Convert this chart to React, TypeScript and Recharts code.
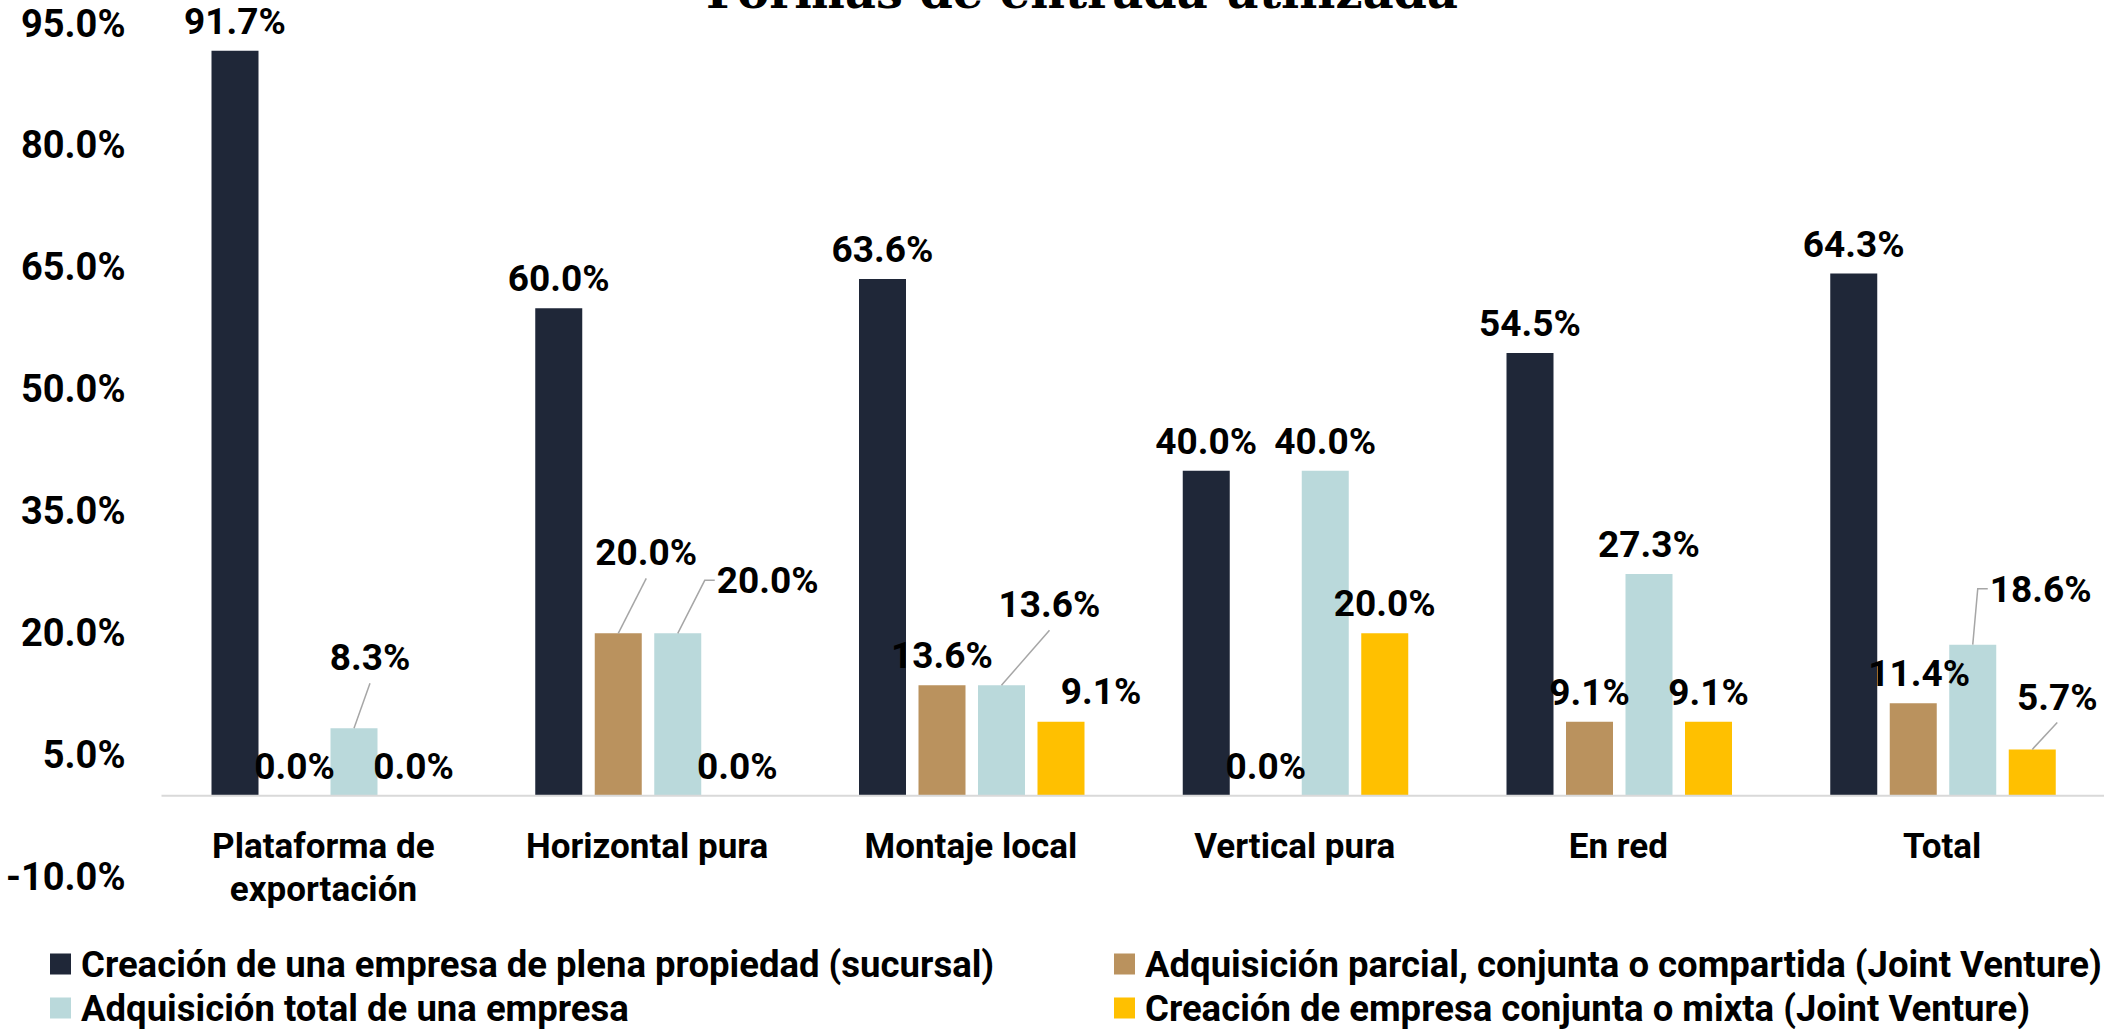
import React from 'react';
import { BarChart, Bar, XAxis, YAxis, ReferenceLine, LabelList } from 'recharts';

// values (percent)
const categories = ['Plataforma de exportación', 'Horizontal pura', 'Montaje local', 'Vertical pura', 'En red', 'Total'];
const sucursal = [91.7, 60.0, 63.6, 40.0, 54.5, 64.3];
const adqParcial = [0.0, 20.0, 13.6, 0.0, 9.1, 11.4];
const adqTotal = [8.3, 20.0, 13.6, 40.0, 27.3, 18.6];
const mixta = [0.0, 0.0, 9.1, 20.0, 9.1, 5.7];
const yTicks = [-10, 5, 20, 35, 50, 65, 80, 95];

const TITLE = 'Formas de entrada utilizada';

const series = [
  { key: 'sucursal', name: 'Creación de una empresa de plena propiedad (sucursal)', color: '#1F2738', values: sucursal },
  { key: 'adqParcial', name: 'Adquisición parcial, conjunta o compartida (Joint Venture)', color: '#BA925E', values: adqParcial },
  { key: 'adqTotal', name: 'Adquisición total de una empresa', color: '#BAD9DB', values: adqTotal },
  { key: 'mixta', name: 'Creación de empresa conjunta o mixta (Joint Venture)', color: '#FFC000', values: mixta },
];

const data = categories.map((category, i) => {
  const row: any = { category };
  series.forEach(s => { row[s.key] = s.values[i]; });
  return row;
});

// labels that were dragged away from their bar in the original (offsets in px)
const labelTweaks: Record<string, { dx: number; dy: number; leader?: 'line' | 'elbow' }> = {
  'Plataforma de exportación|adqTotal': { dx: 16, dy: -41, leader: 'line' },
  'Horizontal pura|adqParcial': { dx: 28, dy: -51, leader: 'line' },
  'Horizontal pura|adqTotal': { dx: 90, dy: -23, leader: 'elbow' },
  'Montaje local|adqTotal': { dx: 48, dy: -51, leader: 'line' },
  'Montaje local|mixta': { dx: 40, dy: -1 },
  'Total|adqParcial': { dx: 6, dy: 0 },
  'Total|adqTotal': { dx: 68, dy: -26, leader: 'elbow' },
  'Total|mixta': { dx: 25, dy: -23, leader: 'line' },
};

const FONT = 'Roboto, "Noto Sans", sans-serif';
const NUM_SIZE = 37;
const TEXT_SIZE = 35;
const LEGEND_SIZE = 36.5;
const LABEL_GAP = 30;

const makeLabel = (seriesKey: string) => (props: any) => {
  const vb = props.viewBox || props;
  const { x, width } = vb;
  const { value, index } = props;
  // zero bars get a hairline height, so take the top as the lower edge of the rect
  const y = Math.min(vb.y, vb.y + vb.height);
  const cat = props.payload?.category ?? categories[index];
  const tweak = labelTweaks[`${cat}|${seriesKey}`] || { dx: 0, dy: 0 };
  const bx = x + width / 2;
  const cx = bx + tweak.dx;
  const cy = y - LABEL_GAP + tweak.dy;
  let leader = null;
  if (tweak.leader === 'line') {
    leader = <line x1={bx} y1={y} x2={cx} y2={cy + 26} stroke="#A6A6A6" strokeWidth={1.5} />;
  } else if (tweak.leader === 'elbow') {
    leader = (
      <polyline
        points={`${bx},${y} ${cx - 63},${cy} ${cx - 53},${cy}`}
        fill="none"
        stroke="#A6A6A6"
        strokeWidth={1.5}
      />
    );
  }
  return (
    <g>
      {leader}
      <text
        x={cx}
        y={cy + NUM_SIZE * 0.355}
        textAnchor="middle"
        fontFamily={FONT}
        fontWeight={700}
        fontSize={NUM_SIZE}
        fill="#000"
      >
        {`${Number(value).toFixed(1)}%`}
      </text>
    </g>
  );
};

const YTick = ({ x, y, payload }: any) => (
  <text x={x} y={y + NUM_SIZE * 0.34} textAnchor="end" fontFamily={FONT} fontWeight={700} fontSize={NUM_SIZE + 1} fill="#000">
    {`${Number(payload.value).toFixed(1)}%`}
  </text>
);

const wrapWords = (label: string, maxChars = 16) => {
  const lines: string[] = [];
  let cur = '';
  label.split(' ').forEach(w => {
    const next = cur ? `${cur} ${w}` : w;
    if (next.length > maxChars && cur) {
      lines.push(cur);
      cur = w;
    } else {
      cur = next;
    }
  });
  if (cur) lines.push(cur);
  return lines;
};

const XTick = ({ x, y, payload }: any) => {
  const lines = wrapWords(String(payload.value));
  return (
    <text x={x} y={y - 19} textAnchor="middle" fontFamily={FONT} fontWeight={700} fontSize={TEXT_SIZE} fill="#000">
      {lines.map((l, i) => (
        <tspan key={i} x={x} dy={i === 0 ? 0 : 43}>{l}</tspan>
      ))}
    </text>
  );
};

// legend is laid out in two columns like the original
const legendCols = [50, 1114];
const legendRows = [964, 1008];

export default function App() {
  return (
    <div style={{ position: 'absolute', left: 0, top: 0, width: 2112, height: 1029, background: '#fff', overflow: 'hidden' }}>
      <BarChart
        width={2112}
        height={1029}
        data={data}
        margin={{ top: 24, right: 8, left: 0, bottom: 0 }}
        barCategoryGap={50}
        barGap={12.5}
      >
        <YAxis
          type="number"
          domain={[-10, 95]}
          ticks={yTicks}
          interval={0}
          axisLine={false}
          tickLine={false}
          tickSize={0}
          tickMargin={36}
          width={161.5}
          tick={<YTick />}
        />
        <XAxis
          dataKey="category"
          axisLine={false}
          tickLine={false}
          tickSize={0}
          tickMargin={0}
          height={152}
          interval={0}
          tick={<XTick />}
        />
        <ReferenceLine y={0} stroke="#D9D9D9" strokeWidth={2} />
        {series.map(s => (
          <Bar key={s.key} dataKey={s.key} name={s.name} fill={s.color} minPointSize={0.01} isAnimationActive={false}>
            <LabelList dataKey={s.key} content={makeLabel(s.key)} />
          </Bar>
        ))}
      </BarChart>
      <svg width={2112} height={1029} style={{ position: 'absolute', left: 0, top: 0, pointerEvents: 'none' }}>
        <text
          x={1082}
          y={8}
          textAnchor="middle"
          fontFamily='"DejaVu Serif", serif'
          fontWeight={700}
          fontSize={46}
          textLength={752}
          lengthAdjust="spacingAndGlyphs"
          fill="#000"
        >
          {TITLE}
        </text>
        {series.map((s, i) => {
          const lx = legendCols[i % 2];
          const ly = legendRows[Math.floor(i / 2)];
          return (
            <g key={s.key}>
              <rect x={lx} y={ly - 10.5} width={21} height={21} fill={s.color} />
              <text x={lx + 31} y={ly + LEGEND_SIZE * 0.355} fontFamily={FONT} fontWeight={700} fontSize={LEGEND_SIZE} fill="#000">
                {s.name}
              </text>
            </g>
          );
        })}
      </svg>
    </div>
  );
}
